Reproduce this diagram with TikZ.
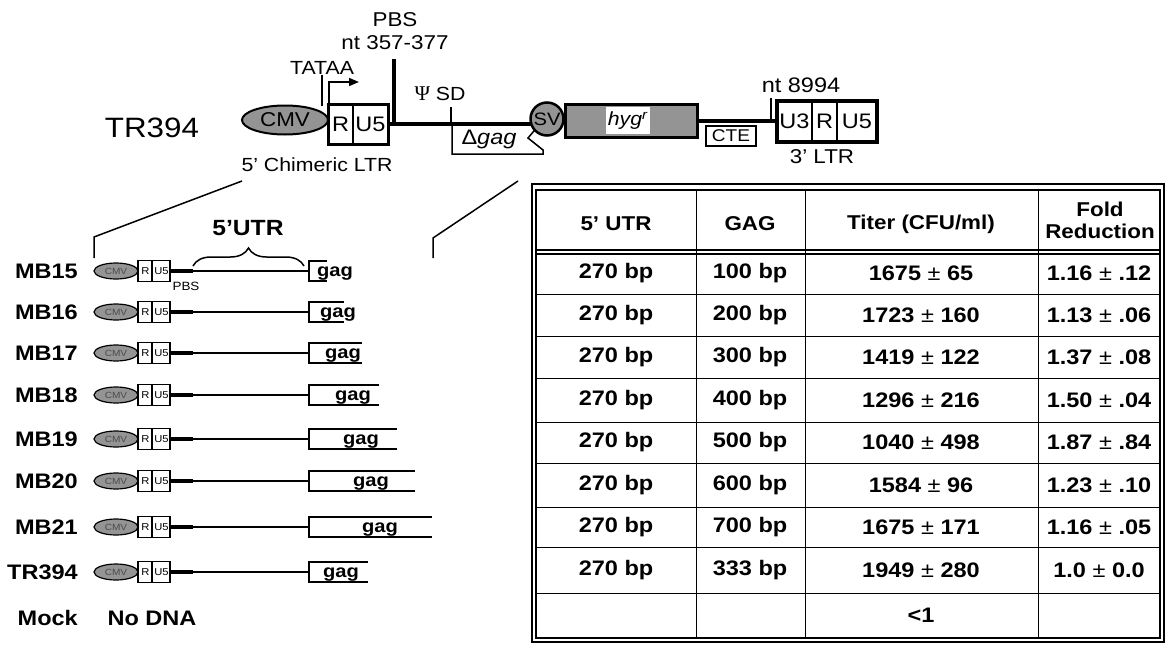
\documentclass[tikz,border=0pt]{standalone}
\usepackage{fontspec}
\setmainfont[FakeStretch=1.12]{Liberation Sans}
\newfontfamily\psifont{Liberation Serif}
\usetikzlibrary{arrows.meta,decorations.pathreplacing,shapes.geometric,calc}
\begin{document}
\begin{tikzpicture}[x=1pt,y=-1pt,
  lbl/.style={inner sep=0pt,font=\fontsize{#1}{#1}\selectfont},
  blbl/.style={inner sep=0pt,font=\fontsize{#1}{#1}\selectfont\bfseries},
  stip/.style={fill=black!42},
  bbone/.style={line width=4pt},
  thinln/.style={line width=1.5pt},
  grid/.style={line width=1pt},
  dbl/.style={line width=1.3pt}]
\useasboundingbox (0,0) rectangle (1166,645);

% ---------------- top construct ----------------
\node[lbl=28] (tr) at (152,128) {TR394};
\node[ellipse,draw,line width=2pt,stip,minimum width=86pt,minimum height=29pt,inner sep=0pt] (cmv) at (285,120) {};
\node[lbl=20] (cmvt) at (cmv) {CMV};
% backbone
\node[circle,draw=none,minimum size=34pt,inner sep=0pt] (svpos) at (547,119) {};
\node[draw,line width=3pt,minimum width=60pt,minimum height=40pt,inner sep=0pt] (r5) at (358,124) {};
\draw[line width=1.5pt] (353,104) -- (353,144);
\node[lbl=21] (r5R) at (340.5,124) {R};
\node[lbl=21] (r5U) at (370.5,124) {U5};
% delta gag
\draw[line width=1.5pt,fill=white] (452,125) -- (539,125) -- (528,138) -- (543,150) -- (543,154) -- (452,154) -- cycle;
\node[lbl=21] (dgag) at (489,139) {Δ\textit{gag}};
\draw[bbone] (r5.east) -- (r5.east -| svpos.center);
% PBS
\node[lbl=20] (pbs) at (395,20) {PBS};
\node[lbl=20] (ntpbs) at (395,43) {nt 357-377};
\coordinate (pbstop) at (394,59);
\draw[bbone] (pbstop) -- (pbstop |- r5.east);
% TATAA + promoter arrow
\node[lbl=19] (tataa) at (322,68) {TATAA};
\coordinate (tatabot) at (322,106);
\draw[thinln] (tataa.south) -- (tatabot);
\coordinate (prA) at (329,104);
\coordinate (prB) at (329,82);
\coordinate (prC) at (359,82);
\draw[thinln,-{Triangle[length=10pt,width=8pt]}] (prA) -- (prB) -- (prC);
% Psi SD
\node[lbl=19] (psisd) at (440,94) {{\psifont\fontsize{21}{21}\selectfont Ψ} SD};
\coordinate (sdtop) at (451,107);
\draw[line width=1.6pt] (sdtop) -- (451,124);
% SV
\node[circle,draw,line width=2.5pt,stip,minimum size=33pt,inner sep=0pt] (sv) at (547,119) {};
\node[lbl=18] (svt) at (sv) {SV};
% hyg
\node[draw,line width=3pt,stip,minimum width=132pt,minimum height=33pt,inner sep=0pt] (hyg) at (631,120.5) {};
\node[fill=white,minimum width=44pt,minimum height=27pt,inner sep=0pt,lbl=19] (hygt) at (628,120.5) {\textit{hyg}\textsuperscript{\textit{r}}};
% CTE + 3' LTR
\node[draw,line width=3.5pt,minimum width=100pt,minimum height=41pt,inner sep=0pt] (ltr3) at (827,121.5) {};
\node[draw,line width=2pt,fill=white,minimum width=50pt,minimum height=20pt,lbl=17] (cte) at (731,136) {CTE};
\draw[bbone] (hyg.east) -- (hyg.east -| ltr3.west);
\draw[line width=2pt] (812,101) -- (812,142);
\draw[line width=2pt] (837,101) -- (837,142);
\node[lbl=21] (u3) at (794.5,121.5) {U3};
\node[lbl=21] (r3) at (824.5,121.5) {R};
\node[lbl=21] (u53) at (857,121.5) {U5};
\node[lbl=21] (nt8994) at (801,85) {nt 8994};
\coordinate (nttick) at (771,98);
\draw[line width=1.8pt] (nttick) -- (771,122);
\node[lbl=20] (ltr3t) at (822,157) {3' LTR};
\node[lbl=19] (ltr5t) at (317,165) {5' Chimeric LTR};

% expansion lines
\coordinate (eL1) at (242,181);
\coordinate (eL2) at (94,237);
\coordinate (eL3) at (94,258);
\coordinate (eR1) at (518,181);
\coordinate (eR2) at (433,238);
\coordinate (eR3) at (433,258);
\draw[thinln] (eL1) -- (eL2) -- (eL3);
\draw[thinln] (eR1) -- (eR2) -- (eR3);

% 5'UTR brace
\node[blbl=22] (utr) at (248,228) {5'UTR};
\draw[decorate,decoration={brace,amplitude=18pt},line width=1.5pt] (193,266) -- (304,266);
\node[lbl=12] (pbssmall) at (186,286) {PBS};

% ---------------- small constructs ----------------
\foreach \nm/\yy/\len/\gx in {MB15/271/100/335,MB16/312/200/338,MB17/353/300/343,MB18/395/400/353,MB19/439/500/361,MB20/481/600/371,MB21/527/700/380,TR394/572/333/341}{
  \node[blbl=21,anchor=east] (lab\nm) at (78,\yy) {\nm};
  \node[ellipse,draw,line width=1.2pt,stip,minimum width=44pt,minimum height=16pt,inner sep=0pt] (c\nm) at (116,\yy) {};
  \node[lbl=9,text=black!70] (ct\nm) at (c\nm) {CMV};
  \node[draw,line width=1.5pt,minimum width=32pt,minimum height=21pt,inner sep=0pt] (r\nm) at (154,\yy) {};
  \draw[line width=1.2pt] (152,\yy-10.5) -- (152,\yy+10.5);
  \node[lbl=10] (rr\nm) at (145.5,\yy) {R};
  \node[lbl=10] (ru\nm) at (161.5,\yy) {U5};
  \draw[line width=3.5pt] (r\nm.east) -- (193,\yy);
  \draw[thinln] (193,\yy) -- (309,\yy);
  \draw[line width=1.8pt] (309+0.176*\len,\yy-10) -- (309,\yy-10) -- (309,\yy+10) -- (309+0.176*\len,\yy+10);
  \node[blbl=18,anchor=base] (g\nm) at (\gx,\yy+5) {gag};
}
\node[blbl=21,anchor=east] (mock) at (78,618) {Mock};
\node[blbl=21] (nodna) at (152,618) {No DNA};

% ---------------- table ----------------
\draw[dbl] (532,184) rectangle (1164,642);
\draw[dbl] (536,190) rectangle (1160,638);
\draw[line width=1.5pt] (536,250) -- (1160,250);
\draw[line width=1.5pt] (536,254) -- (1160,254);
\foreach \yy in {294,336,378,422,463,507,547,593}{
  \draw[grid] (536,\yy) -- (1160,\yy);
}
\foreach \xx in {696,805,1038}{
  \draw[grid] (\xx,190) -- (\xx,638);
}
\node[blbl=20] (h1) at (616,224) {5' UTR};
\node[blbl=20] (h2) at (750,224) {GAG};
\node[blbl=20] (h3) at (921,224) {Titer (CFU/ml)};
\node[blbl=20,align=center] (h4) at (1100,220) {Fold\\[2pt]Reduction};
\foreach \yy/\g/\t/\f [count=\i] in {273/100 bp/1675 {\mdseries ±} 65/1.16 {\mdseries ±} .12,
  315/200 bp/1723 {\mdseries ±} 160/1.13 {\mdseries ±} .06,
  357/300 bp/1419 {\mdseries ±} 122/1.37 {\mdseries ±} .08,
  400/400 bp/1296 {\mdseries ±} 216/1.50 {\mdseries ±} .04,
  442/500 bp/1040 {\mdseries ±} 498/1.87 {\mdseries ±} .84,
  485/600 bp/1584 {\mdseries ±} 96/1.23 {\mdseries ±} .10,
  527/700 bp/1675 {\mdseries ±} 171/1.16 {\mdseries ±} .05,
  570/333 bp/1949 {\mdseries ±} 280/1.0 {\mdseries ±} 0.0}{
  \node[blbl=21] (a\i) at (616,\yy) {270 bp};
  \node[blbl=21] (b\i) at (750,\yy) {\g};
  \node[blbl=21] (t\i) at (921,\yy) {\t};
  \node[blbl=21] (f\i) at (1099,\yy) {\f};
}
\node[blbl=21] (lt1) at (921,615) {<1};
\end{tikzpicture}
\end{document}
